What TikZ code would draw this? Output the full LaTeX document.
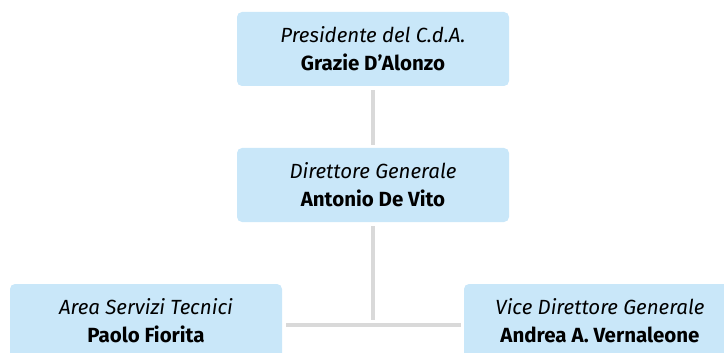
\documentclass[tikz,border=0pt]{standalone}
\usepackage{fontspec}
\setmainfont{Fira Sans}
\usepackage{xcolor}
\definecolor{boxblue}{HTML}{C9E7F9}
\definecolor{linegray}{HTML}{D9D9D9}

\begin{document}
\begin{tikzpicture}[x=1pt, y=1pt,
        box/.style={rectangle, rounded corners=5pt, fill=boxblue, minimum width=272pt,
            minimum height=74pt, align=center, inner sep=0pt,
            font=\fontsize{20.5}{28}\selectfont},
        conn/.style={draw=linegray, line width=4pt}]
        \useasboundingbox (0,0) rectangle (724,-353);

        \node[box] (pres) at (373,-49) {\textit{Presidente del C.d.A.}\\\textbf{Grazie D'Alonzo}};
        \node[box] (dir) at (373,-185) {\textit{Direttore Generale}\\\textbf{Antonio De Vito}};
        \node[box] (tec) at (146,-321) {\textit{Area Servizi Tecnici}\\\textbf{Paolo Fiorita}};
        \node[box] (vice) at (600,-321) {\textit{Vice Direttore Generale}\\\textbf{Andrea A. Vernaleone}};

        \coordinate (split) at (373,-320);

        \draw[conn] ([yshift=-4pt]pres.south) -- ([yshift=3pt]dir.north);
        \draw[conn] ([yshift=-4pt]dir.south) -- (split);
        \draw[conn] ([xshift=4pt, yshift=-4pt]tec.east) -- ([xshift=-3pt, yshift=-4pt]vice.west); % branch
    \end{tikzpicture}
\end{document}
